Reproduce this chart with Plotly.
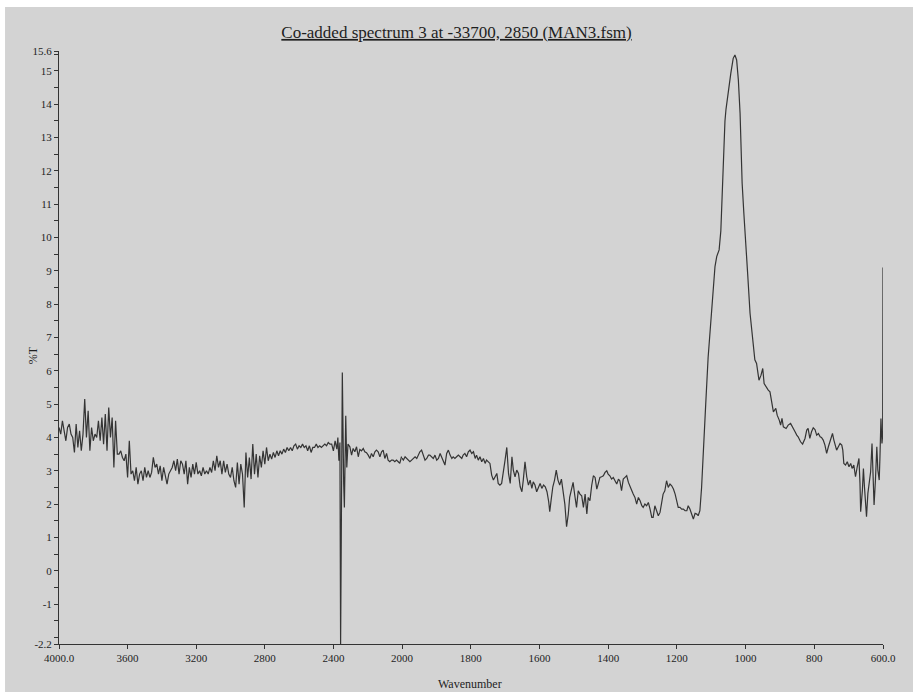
import plotly.graph_objects as go

# ---- data: wavenumber (cm-1) and %T ----
wavenumber = [
    4000, 3990, 3980, 3970, 3960, 3950, 3940, 3930, 3920, 3910, 3900, 3890, 3880, 3870, 3860, 3850,
    3840, 3830, 3820, 3810, 3800, 3790, 3780, 3770, 3760, 3750, 3740, 3730, 3720, 3710, 3700, 3690,
    3680, 3670, 3660, 3650, 3640, 3630, 3620, 3610, 3600, 3590, 3580, 3570, 3560, 3550, 3540, 3530,
    3520, 3510, 3500, 3490, 3480, 3470, 3460, 3450, 3440, 3430, 3420, 3410, 3400, 3390, 3380, 3370,
    3360, 3350, 3340, 3330, 3320, 3310, 3300, 3290, 3280, 3270, 3260, 3250, 3240, 3230, 3220, 3210,
    3200, 3190, 3180, 3170, 3160, 3150, 3140, 3130, 3120, 3110, 3100, 3090, 3080, 3070, 3060, 3050,
    3040, 3030, 3020, 3010, 3000, 2990, 2980, 2970, 2960, 2950, 2940, 2930, 2920, 2910, 2900, 2890,
    2880, 2870, 2860, 2850, 2840, 2830, 2820, 2810, 2800, 2790, 2780, 2770, 2760, 2750, 2740, 2730,
    2720, 2710, 2700, 2690, 2680, 2670, 2660, 2650, 2640, 2630, 2620, 2610, 2600, 2590, 2580, 2570,
    2560, 2550, 2540, 2530, 2520, 2510, 2500, 2490, 2480, 2470, 2460, 2450, 2440, 2430, 2420,
    2410, 2400, 2390, 2380, 2374, 2368, 2362, 2358, 2348, 2340, 2336, 2328, 2322, 2315, 2304, 2294,
    2285, 2275, 2265, 2255, 2246, 2236, 2226, 2217, 2207, 2197, 2187, 2178, 2168, 2158, 2149, 2139,
    2129, 2119, 2110, 2100, 2090, 2081, 2071, 2061, 2052, 2042, 2032, 2022, 2013, 2003, 2000,
    1996, 1991, 1986, 1982, 1977, 1972, 1967, 1962, 1957, 1952, 1948, 1943, 1938, 1933, 1928, 1923,
    1919, 1914, 1909, 1904, 1899, 1894, 1889, 1885, 1880, 1875, 1870, 1865, 1860, 1855, 1851, 1846,
    1841, 1836, 1831, 1826, 1822, 1817, 1812, 1807, 1802, 1797, 1792, 1787, 1783, 1778, 1773, 1768,
    1763, 1758, 1754, 1749, 1744, 1739, 1734, 1729, 1724, 1720, 1715, 1710, 1705, 1700, 1695, 1690,
    1685, 1680, 1676, 1671, 1666, 1661, 1656, 1651, 1647, 1642, 1637, 1632, 1627, 1622, 1618, 1613,
    1608, 1603, 1598, 1593, 1588, 1583, 1578, 1573, 1570, 1566, 1561, 1556, 1551, 1546,
    1541, 1536, 1531, 1526, 1521, 1516, 1512, 1506, 1502, 1497, 1492, 1487, 1482, 1477, 1472, 1467,
    1462, 1458, 1453, 1448, 1443, 1438, 1433, 1429, 1424, 1419, 1414, 1409, 1404, 1400, 1395, 1390,
    1385, 1380, 1375, 1370, 1366, 1361, 1356, 1351, 1346, 1341, 1336, 1331, 1327, 1322, 1317, 1312,
    1307, 1302, 1298, 1293, 1288, 1283, 1278, 1273, 1269, 1264, 1259, 1254, 1249, 1244, 1240, 1235,
    1230, 1225, 1220, 1215, 1210, 1205, 1200, 1196, 1191, 1186, 1181, 1176, 1171, 1167, 1162, 1157,
    1152, 1147, 1142, 1138, 1133, 1128, 1123, 1120, 1116,
    1109, 1102, 1096, 1089, 1084, 1077, 1072, 1069, 1066, 1063, 1060, 1057, 1050, 1043, 1036, 1031,
    1026, 1021, 1016, 1013, 1010, 1005, 1000, 994, 987, 979, 973,
    968, 961, 955, 950, 946, 941, 934, 929, 924, 919, 912, 908, 902, 898, 894, 890,
    882, 876, 869, 863, 856, 851, 847, 840, 834, 827, 822, 818, 813, 808, 803, 798,
    793, 788, 783, 779, 774, 769, 764, 759, 754, 749, 747, 743, 739, 735, 730, 725,
    720, 717, 714, 709, 704, 699, 694, 690, 685, 680, 675, 670, 667, 665, 660, 657,
    654, 650, 648, 644, 640, 636, 632, 629, 626, 622, 618, 615, 611, 609, 606, 603,
    601, 600,
]

transmittance = [
    4.3, 4.1, 4.5, 4.2, 3.9, 4.3, 4.4, 4.1, 4.0, 3.55, 4.4, 3.7, 4.2, 3.6, 4.1, 5.15,
    4.0, 4.8, 3.6, 4.3, 3.9, 4.1, 4.0, 4.5, 3.9, 4.6, 3.8, 4.7, 3.6, 4.9, 4.0, 4.6,
    3.1, 4.5, 3.5, 3.5, 3.6, 3.4, 3.3, 3.5, 2.8, 3.9, 2.9, 3.0, 2.7, 3.1, 2.6, 2.9,
    3.0, 2.7, 3.1, 2.8, 3.0, 2.8, 2.95, 3.4, 3.1, 3.2, 2.9, 3.15, 2.7, 3.1, 2.8, 2.6,
    2.9, 3.0, 3.1, 3.3, 3.0, 3.35, 2.9, 3.3, 3.2, 2.9, 3.3, 2.6, 3.1, 2.8, 3.2, 2.9,
    3.25, 2.9, 3.0, 2.85, 3.1, 2.9, 3.0, 2.9, 3.1, 2.95, 3.3, 3.0, 3.45, 3.1, 3.3, 2.9,
    3.3, 2.95, 3.2, 2.9, 2.8, 3.1, 2.7, 2.5, 3.25, 2.6, 3.2, 2.9, 1.9, 3.55, 2.8, 3.4,
    2.75, 3.8, 2.9, 3.5, 2.8, 3.45, 3.1, 3.6, 3.2, 3.7, 3.3, 3.5, 3.35, 3.55, 3.4, 3.6,
    3.45, 3.6, 3.5, 3.65, 3.55, 3.7, 3.6, 3.7, 3.6, 3.75, 3.8, 3.65, 3.75, 3.7, 3.8, 3.7,
    3.75, 3.6, 3.75, 3.55, 3.7, 3.7, 3.8, 3.7, 3.75, 3.7, 3.75, 3.8, 3.75, 3.85, 3.8,
    3.8, 3.6, 3.9, 3.65, 4.0, 3.3, 3.85, -2.2, 5.95, 2.6, 1.9, 4.65, 3.1, 3.8, 3.72, 3.47,
    3.67, 3.57, 3.72, 3.42, 3.64, 3.6, 3.67, 3.57, 3.54, 3.47, 3.37, 3.52, 3.42, 3.57, 3.62, 3.57,
    3.42, 3.57, 3.62, 3.37, 3.52, 3.32, 3.27, 3.32, 3.32, 3.27, 3.32, 3.27, 3.22, 3.42, 3.38,
    3.32, 3.42, 3.37, 3.32, 3.27, 3.32, 3.37, 3.42, 3.37, 3.47, 3.57, 3.62, 3.47, 3.32, 3.37, 3.47,
    3.47, 3.42, 3.37, 3.47, 3.32, 3.37, 3.52, 3.42, 3.27, 3.17, 3.52, 3.62, 3.47, 3.37, 3.42, 3.37,
    3.42, 3.47, 3.42, 3.37, 3.47, 3.52, 3.42, 3.57, 3.62, 3.52, 3.57, 3.37, 3.47, 3.32, 3.42, 3.27,
    3.37, 3.22, 3.32, 3.27, 3.22, 2.87, 2.72, 2.82, 2.92, 2.62, 2.57, 2.62, 2.92, 3.32, 3.7, 2.92,
    2.62, 3.42, 3.02, 2.82, 3.02, 2.92, 2.52, 2.37, 2.72, 3.27, 2.82, 2.57, 2.72, 2.47, 2.67, 2.57,
    2.37, 2.52, 2.62, 2.47, 2.57, 2.52, 2.37, 2.07, 1.77, 2.12, 2.52, 2.72, 3.02, 2.72,
    2.57, 2.75, 2.42, 2.0, 1.32, 1.7, 2.2, 2.5, 2.65, 2.25, 1.9, 2.4, 2.3, 2.25, 1.9, 2.3,
    1.7, 2.2, 2.1, 2.55, 2.85, 2.8, 2.45, 2.6, 2.8, 2.82, 2.85, 2.95, 3.0, 2.9, 2.85, 2.75,
    2.8, 2.7, 2.6, 2.75, 2.7, 2.4, 2.75, 2.8, 2.85, 2.65, 2.5, 2.4, 2.3, 2.2, 2.0, 2.2,
    2.1, 1.95, 1.9, 2.0, 1.95, 2.05, 1.85, 1.6, 1.6, 1.95, 1.8, 1.65, 1.75, 2.0, 2.3, 2.4,
    2.7, 2.5, 2.6, 2.55, 2.45, 2.3, 2.1, 1.9, 1.9, 1.85, 1.85, 1.8, 1.8, 1.95, 1.85, 1.7,
    1.55, 1.72, 1.7, 1.65, 1.8, 2.5, 3.4, 4.2, 5.0,
    6.4, 7.43, 8.33, 9.13, 9.43, 9.63, 10.2, 11.0, 12.0, 12.9, 13.5, 13.85, 14.43, 14.93, 15.38, 15.48,
    15.33, 14.73, 13.73, 12.73, 11.63, 10.73, 9.73, 8.93, 7.73, 6.93, 6.33,
    6.22, 5.72, 5.87, 6.07, 5.62, 5.52, 5.42, 5.37, 5.02, 4.77, 4.87, 4.67, 4.52, 4.37, 4.57, 4.32,
    4.27, 4.37, 4.42, 4.32, 4.17, 4.07, 4.02, 3.87, 3.8, 3.97, 4.22, 4.27, 3.97, 4.17, 4.29, 4.24,
    4.07, 4.12, 4.02, 4.0, 3.92, 3.77, 3.52, 3.72, 3.92, 4.07, 4.12, 3.92, 3.72, 3.62, 3.72, 3.82,
    3.77, 3.62, 3.22, 3.17, 3.27, 3.12, 3.22, 3.07, 3.17, 2.82, 3.12, 3.37, 2.62, 1.77, 2.42, 3.07,
    2.52, 1.82, 1.62, 2.32, 2.67, 2.97, 3.82, 3.02, 1.97, 2.72, 3.72, 3.02, 2.72, 3.37, 4.57, 3.82,
    4.07, 9.1,
]

x_ticks_high = [4000, 3600, 3200, 2800, 2400]
x_labels_high = ["4000.0", "3600", "3200", "2800", "2400"]
x_ticks_low = [2000, 1800, 1600, 1400, 1200, 1000, 800, 600]
x_labels_low = ["2000", "1800", "1600", "1400", "1200", "1000", "800", "600.0"]
y_ticks = [-2.2, -2, -1, 0, 1, 2, 3, 4, 5, 6, 7, 8, 9, 10, 11, 12, 13, 14, 15, 15.6]
y_labels = ["-2.2", "", "-1", "0", "1", "2", "3", "4", "5", "6", "7", "8", "9", "10",
            "11", "12", "13", "14", "15", "15.6"]
y_minor = [-1.5, -0.5, 0.5, 1.5, 2.5, 3.5, 4.5, 5.5, 6.5, 7.5, 8.5, 9.5, 10.5, 11.5,
           12.5, 13.5, 14.5, 15.5]

title_text = "Co-added spectrum 3 at -33700, 2850 (MAN3.fsm)"

# ---- split at 2000 cm-1 (the x scale doubles below 2000) ----
hi = [(w, t) for w, t in zip(wavenumber, transmittance) if w >= 2000]
lo = [(w, t) for w, t in zip(wavenumber, transmittance) if w <= 2000]

BG = "#d3d3d3"
INK = "#343434"
FONT = "Liberation Serif"

fig = go.Figure()
line = dict(color=INK, width=1.2)
fig.add_trace(go.Scatter(x=[p[0] for p in hi], y=[p[1] for p in hi], mode="lines",
                         line=line, xaxis="x", yaxis="y", showlegend=False, hoverinfo="x+y"))
fig.add_trace(go.Scatter(x=[p[0] for p in lo], y=[p[1] for p in lo], mode="lines",
                         line=line, xaxis="x2", yaxis="y", showlegend=False, hoverinfo="x+y"))

split = 343 / 824
axis_common = dict(showgrid=False, zeroline=False, showline=True, linecolor="#333333",
                   linewidth=1, ticks="outside", ticklen=4, tickcolor="#333333",
                   tickfont=dict(family=FONT, size=11, color="#1e1e1e"))

fig.update_layout(
    width=913, height=692,
    margin=dict(l=59, r=30, t=51, b=48),
    paper_bgcolor="white",
    plot_bgcolor=BG,
    title=dict(text="<u>" + title_text + "</u>", x=0.5, xanchor="center",
               y=1 - 32 / 692, yanchor="middle",
               font=dict(family=FONT, size=17, color="#1e1e1e")),
    xaxis=dict(domain=[0, split], range=[4000, 2000], tickmode="array",
               tickvals=x_ticks_high, ticktext=x_labels_high, anchor="y", **axis_common),
    xaxis2=dict(domain=[split, 1], range=[2000, 600], tickmode="array",
                tickvals=x_ticks_low, ticktext=x_labels_low, anchor="y", **axis_common),
    yaxis=dict(range=[-2.2, 15.6], tickmode="array", tickvals=y_ticks, ticktext=y_labels,
               minor=dict(tickmode="array", tickvals=y_minor, ticklen=4, ticks="outside",
                          tickcolor="#333333"),
               **axis_common),
    shapes=[dict(type="rect", xref="paper", yref="paper", x0=-0.0655, x1=1.06,
                 y0=-0.1, y1=1.0742, fillcolor=BG, line=dict(width=0), layer="below")],
    annotations=[
        dict(text="Wavenumber", xref="paper", yref="paper", x=0.4988, y=-0.0675,
             xanchor="center", yanchor="middle", showarrow=False,
             font=dict(family=FONT, size=12, color="#1e1e1e")),
        dict(text="%T", xref="paper", yref="paper", x=-0.0316, y=0.487,
             xanchor="center", yanchor="middle", textangle=-90, showarrow=False,
             font=dict(family=FONT, size=12, color="#1e1e1e")),
    ],
)

fig.write_html("out.html")
